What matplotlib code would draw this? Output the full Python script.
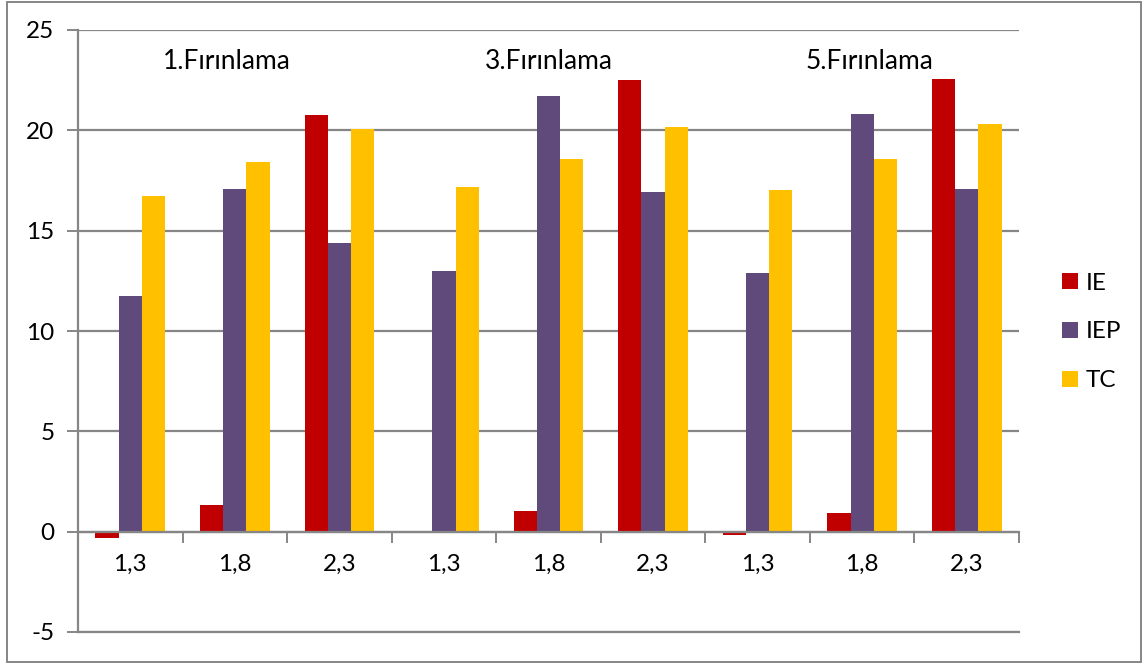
import matplotlib
matplotlib.use("Agg")
import matplotlib.pyplot as plt
from matplotlib.patches import Rectangle, Patch
import numpy as np

plt.rcParams['font.family'] = ['Lato', 'DejaVu Sans']

categories = ["1,3", "1,8", "2,3", "1,3", "1,8", "2,3", "1,3", "1,8", "2,3"]
series_names = ["IE", "IEP", "TC"]
ie = [-0.32, 1.31, 20.74, -0.02, 1.03, 22.51, -0.15, 0.93, 22.55]
iep = [11.74, 17.10, 14.40, 12.98, 21.71, 16.95, 12.88, 20.81, 17.07]
tc = [16.74, 18.40, 20.07, 17.20, 18.57, 20.19, 17.05, 18.59, 20.30]
group_titles = ["1.Fırınlama", "3.Fırınlama", "5.Fırınlama"]
y_ticks = [-5, 0, 5, 10, 15, 20, 25]

colors = ["#C00000", "#604A7B", "#FFC000"]
grid_color = "#868686"

fig = plt.figure(figsize=(11.43, 6.63), dpi=100)
ax = fig.add_axes([78 / 1143, 1 - 632 / 663, (1019 - 78) / 1143, (632 - 30) / 663])

x = np.arange(len(categories))
w = 0.222
for i, (vals, col) in enumerate(zip([ie, iep, tc], colors)):
    ax.bar(x + (i - 1) * w, vals, width=w, color=col, edgecolor='none', zorder=3)

ax.set_xlim(-0.5, len(categories) - 0.5)
ax.set_ylim(-5, 25)
ax.set_yticks(y_ticks)
ax.set_yticklabels([str(v) for v in y_ticks], fontsize=17.5)
ax.yaxis.grid(True, color=grid_color, linewidth=1.6, zorder=0)
ax.tick_params(axis='y', length=8, width=1.4, color=grid_color, pad=9)

# category axis sits on the zero line
for s in ['top', 'right']:
    ax.spines[s].set_visible(False)
ax.spines['left'].set_color(grid_color)
ax.spines['left'].set_linewidth(1.6)
ax.spines['bottom'].set_position(('data', 0))
ax.spines['bottom'].set_color(grid_color)
ax.spines['bottom'].set_linewidth(1.6)
ax.spines['bottom'].set_zorder(4)
ax.set_xticks(x)
ax.set_xticklabels(categories, fontsize=17.5)
ax.tick_params(axis='x', which='major', length=0, pad=16)
ax.set_xticks(np.arange(len(categories) + 1) - 0.5, minor=True)
ax.tick_params(axis='x', which='minor', length=8, width=1.4, color=grid_color)

# bottom gridline at -5 spans the plot area
ax.axhline(-5, color=grid_color, linewidth=1.6, zorder=0, clip_on=False)

for k, title in enumerate(group_titles):
    cx = [0.92, 4.0, 7.07][k]
    ax.text(cx, 23.45, title, ha='center', va='center', fontsize=19)

handles = [Patch(facecolor=c, edgecolor='none') for c in colors]
fig.legend(handles, series_names, loc='center left',
           bbox_to_anchor=(1052 / 1143, 1 - 332 / 663), frameon=False,
           fontsize=17.5, handlelength=0.65, handleheight=0.65,
           handletextpad=0.35, labelspacing=1.15, borderaxespad=0)

fig.patches.append(Rectangle((7 / 1143, 1 / 663), 1134 / 1143, 660 / 663,
                             transform=fig.transFigure, fill=False,
                             edgecolor=grid_color, linewidth=1.4))

fig.savefig("out.png", dpi=100)
